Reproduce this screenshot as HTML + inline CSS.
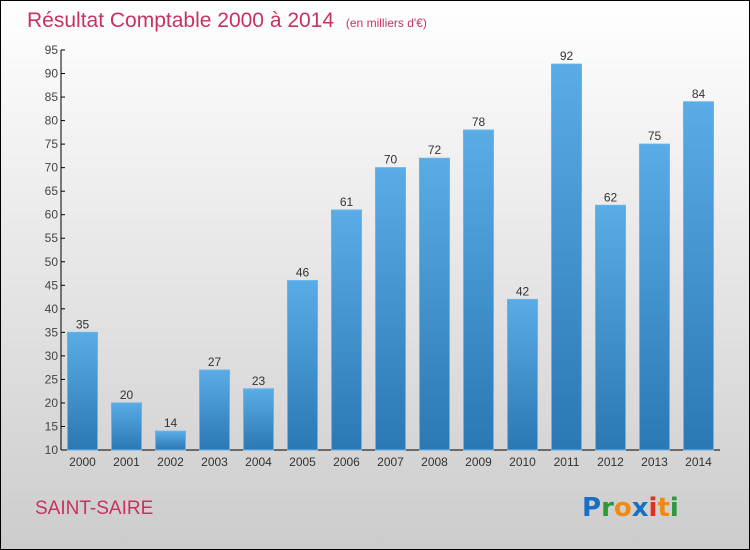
<!DOCTYPE html>
<html><head><meta charset="utf-8"><style>
body{margin:0;width:750px;height:550px;overflow:hidden;font-family:"Liberation Sans",sans-serif}
svg{display:block}
</style></head><body>
<svg id="c" width="750" height="550" xmlns="http://www.w3.org/2000/svg">
<defs>
<linearGradient id="bg" x1="0" y1="0" x2="0" y2="1"><stop offset="0" stop-color="#ffffff"/><stop offset="1" stop-color="#cccccc"/></linearGradient>
<linearGradient id="bar" x1="0" y1="0" x2="0" y2="1"><stop offset="0" stop-color="#5aace6"/><stop offset="1" stop-color="#2a78b4"/></linearGradient>
</defs>
<rect x="0.5" y="0.5" width="749" height="549" fill="url(#bg)" stroke="#000"/>
<text x="27" y="27" font-size="21" fill="#c8325f">Résultat Comptable 2000 à 2014 <tspan font-size="12" dx="6">(en milliers d'€)</tspan></text>
<text x="35" y="514" font-size="19" fill="#c8325f">SAINT-SAIRE</text>
<g font-size="26" font-weight="bold" font-family="'DejaVu Sans',sans-serif">
<text x="582" y="516"><tspan fill="#1a6fc4">P</tspan><tspan fill="#2a9a3a">r</tspan><tspan fill="#f08a10">o</tspan><tspan fill="#1a6fc4">x</tspan><tspan fill="#e03020">i</tspan><tspan fill="#f08a10">t</tspan><tspan fill="#2a9a3a">i</tspan></text>
</g>
<g id="axes"></g>
<g id="bars"></g>
</svg>
<script>
const years=["2000","2001","2002","2003","2004","2005","2006","2007","2008","2009","2010","2011","2012","2013","2014"];
const values=[35,20,14,27,23,46,61,70,72,78,42,92,62,75,84];
const yTicks=[10,15,20,25,30,35,40,45,50,55,60,65,70,75,80,85,90,95];
const NS="http://www.w3.org/2000/svg";
const y0=450,y1=50,vmin=10,vmax=95;
function y(v){return y0-(v-vmin)/(vmax-vmin)*(y0-y1);}
function x(i){return 67+i*44;}
function mk(t,a,p){const e=document.createElementNS(NS,t);for(const k in a)e.setAttribute(k,a[k]);p.appendChild(e);return e;}
const ax=document.getElementById('axes'),bs=document.getElementById('bars');
const yl=mk('line',{x1:61,y1:y1,x2:61,y2:y0,stroke:'#000','stroke-width':1},ax);


const xl=mk('line',{x1:61,y1:y0,x2:720,y2:y0,stroke:'#000','stroke-width':1},ax);


yTicks.forEach(v=>{
 const t=mk('line',{x1:61,x2:65,y1:y(v),y2:y(v),stroke:'#000'},ax);
 
 
 const l=mk('text',{x:58,y:y(v)+4,'font-size':12,fill:'#444','text-anchor':'end'},ax);l.textContent=v;
 
 
});
years.forEach((yr,i)=>{
 const r=mk('rect',{x:x(i)+0.5,y:y(values[i]),width:30,height:y0-y(values[i]),fill:'url(#bar)',stroke:'#66b4ec','stroke-width':1},bs);
 
 
 const vl=mk('text',{x:x(i)+15.5,y:y(values[i])-4,'font-size':12,fill:'#333','text-anchor':'middle'},bs);vl.textContent=values[i];
 
 
 const xl2=mk('text',{x:x(i)+15.5,y:466,'font-size':12,fill:'#333','text-anchor':'middle'},bs);xl2.textContent=yr;
 
 
});
</script>
</body></html>
